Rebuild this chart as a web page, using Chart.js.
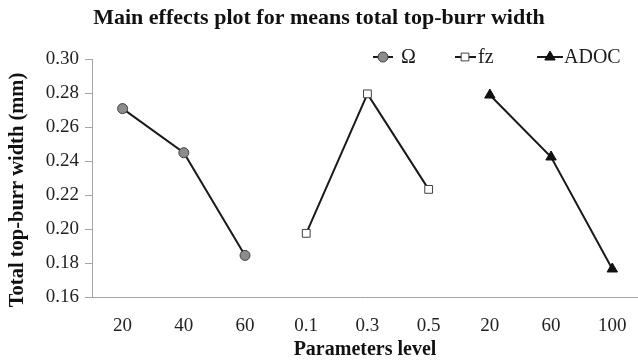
<!DOCTYPE html>
<html>
<head>
<meta charset="utf-8">
<script src="https://cdn.jsdelivr.net/npm/chart.js@4/dist/chart.umd.min.js"></script>
<style>
  html, body { margin: 0; padding: 0; background: #fff; overflow: hidden; }
  #chart { display: block; }
</style>
</head>
<body>
<canvas id="chart" width="638" height="362"></canvas>
<script>
// Factor levels along the x axis: spindle speed (Ω), feed per tooth (fz), axial depth of cut (ADOC)
const levelLabels = ['20', '40', '60', '0.1', '0.3', '0.5', '20', '60', '100'];

// Mean total top-burr width (mm) at each level
const omegaMeans = [0.271, 0.245, 0.1845];
const fzMeans = [0.1975, 0.2797, 0.2234];
const adocMeans = [0.279, 0.2425, 0.1765];

// Each factor occupies three consecutive slots on the shared axis
const omegaStart = 0, fzStart = 3, adocStart = 6;

const yTicks = { min: 0.16, max: 0.30, step: 0.02 };

const SERIF = "'Liberation Serif', 'Times New Roman', serif";
const AXIS_GREY = '#a6a6a6';
const LINE_COLOR = '#1a1a1a';

const toPoints = (values, start) => values.map((v, i) => ({ x: start + i, y: v }));

function drawMarker(ctx, style, x, y, r, fill, stroke) {
  ctx.save();
  ctx.fillStyle = fill;
  ctx.strokeStyle = stroke;
  ctx.lineWidth = 1;
  ctx.beginPath();
  if (style === 'circle') {
    ctx.arc(x, y, r, 0, Math.PI * 2);
  } else if (style === 'rect') {
    const s = r * Math.SQRT1_2;
    ctx.rect(x - s, y - s, 2 * s, 2 * s);
  } else if (style === 'triangle') {
    ctx.moveTo(x, y - r);
    ctx.lineTo(x + r * Math.sqrt(3) / 2, y + r / 2);
    ctx.lineTo(x - r * Math.sqrt(3) / 2, y + r / 2);
    ctx.closePath();
  }
  ctx.fill();
  ctx.stroke();
  ctx.restore();
}

// Legend drawn inside the top-right of the plot: a short line with the series marker, then its name
const inlineLegend = {
  id: 'inlineLegend',
  afterDraw(chart) {
    const ctx = chart.ctx;
    const slots = [
      { x: 373, w: 20, mx: 383, tx: 401 },
      { x: 455, w: 21, mx: 465, tx: 478 },
      { x: 537, w: 26, mx: 550, tx: 564 }
    ];
    const y = 57;
    chart.data.datasets.forEach((ds, i) => {
      const s = slots[i];
      ctx.save();
      ctx.strokeStyle = ds.borderColor;
      ctx.lineWidth = 2;
      ctx.beginPath();
      ctx.moveTo(s.x, y);
      ctx.lineTo(s.x + s.w, y);
      ctx.stroke();
      ctx.restore();
      drawMarker(ctx, ds.pointStyle, s.mx, y, ds.pointRadius, ds.pointBackgroundColor, ds.pointBorderColor);
      ctx.save();
      ctx.fillStyle = '#1a1a1a';
      ctx.font = `20px ${SERIF}`;
      ctx.textAlign = 'left';
      ctx.textBaseline = 'middle';
      ctx.fillText(ds.label, s.tx, y + 1);
      ctx.restore();
    });
  }
};

// Vertical axis title, centred a little below the middle of the axis
const yAxisTitle = {
  id: 'yAxisTitle',
  afterDraw(chart) {
    const ctx = chart.ctx;
    ctx.save();
    ctx.translate(18, 190);
    ctx.rotate(-Math.PI / 2);
    ctx.fillStyle = '#111';
    ctx.font = `bold 20.5px ${SERIF}`;
    ctx.textAlign = 'center';
    ctx.textBaseline = 'middle';
    ctx.fillText('Total top-burr width (mm)', 0, 0);
    ctx.restore();
  }
};

new Chart(document.getElementById('chart'), {
  type: 'line',
  data: {
    datasets: [
      {
        label: 'Ω',
        data: toPoints(omegaMeans, omegaStart),
        borderColor: LINE_COLOR,
        borderWidth: 2,
        pointStyle: 'circle',
        pointRadius: 5,
        pointBackgroundColor: '#8c8c8c',
        pointBorderColor: '#404040',
        pointBorderWidth: 1
      },
      {
        label: 'fz',
        data: toPoints(fzMeans, fzStart),
        borderColor: LINE_COLOR,
        borderWidth: 2,
        pointStyle: 'rect',
        pointRadius: 5.5,
        pointBackgroundColor: '#ffffff',
        pointBorderColor: '#404040',
        pointBorderWidth: 1
      },
      {
        label: 'ADOC',
        data: toPoints(adocMeans, adocStart),
        borderColor: LINE_COLOR,
        borderWidth: 2,
        pointStyle: 'triangle',
        pointRadius: 6,
        pointBackgroundColor: '#111111',
        pointBorderColor: '#111111',
        pointBorderWidth: 1
      }
    ]
  },
  options: {
    responsive: false,
    animation: false,
    layout: { padding: 0, autoPadding: false },
    elements: { line: { tension: 0, fill: false } },
    plugins: {
      legend: { display: false },
      tooltip: { enabled: false },
      title: {
        display: true,
        text: 'Main effects plot for means total top-burr width',
        color: '#111',
        font: { family: SERIF, size: 22, weight: 'bold' },
        padding: { top: 5, bottom: 28 }
      }
    },
    scales: {
      x: {
        type: 'linear',
        min: -0.5,
        max: 8.42,
        afterBuildTicks: (scale) => {
          scale.ticks = levelLabels.map((_, i) => ({ value: i }));
        },
        afterFit: (scale) => {
          scale.height = 65;
          // the axis runs on to the right edge; no extra room for edge labels
          scale.paddingLeft = 0;
          scale.paddingRight = 0;
        },
        ticks: {
          callback: (v) => levelLabels[v],
          color: '#222',
          font: { family: SERIF, size: 19 },
          padding: 18,
          maxRotation: 0,
          autoSkip: false
        },
        grid: { drawOnChartArea: false, drawTicks: false },
        border: { color: AXIS_GREY, width: 1 },
        title: {
          display: true,
          text: 'Parameters level',
          color: '#111',
          font: { family: SERIF, size: 20, weight: 'bold' },
          padding: { top: 0, bottom: 0 }
        }
      },
      y: {
        min: yTicks.min,
        max: yTicks.max,
        afterFit: (scale) => { scale.width = 92; },
        ticks: {
          stepSize: yTicks.step,
          callback: (v) => v.toFixed(2),
          color: '#222',
          font: { family: SERIF, size: 19 },
          padding: 6
        },
        grid: { drawOnChartArea: false, drawTicks: true, tickLength: 7, color: AXIS_GREY },
        border: { color: AXIS_GREY, width: 1 }
      }
    }
  },
  plugins: [inlineLegend, yAxisTitle]
});
</script>
</body>
</html>
